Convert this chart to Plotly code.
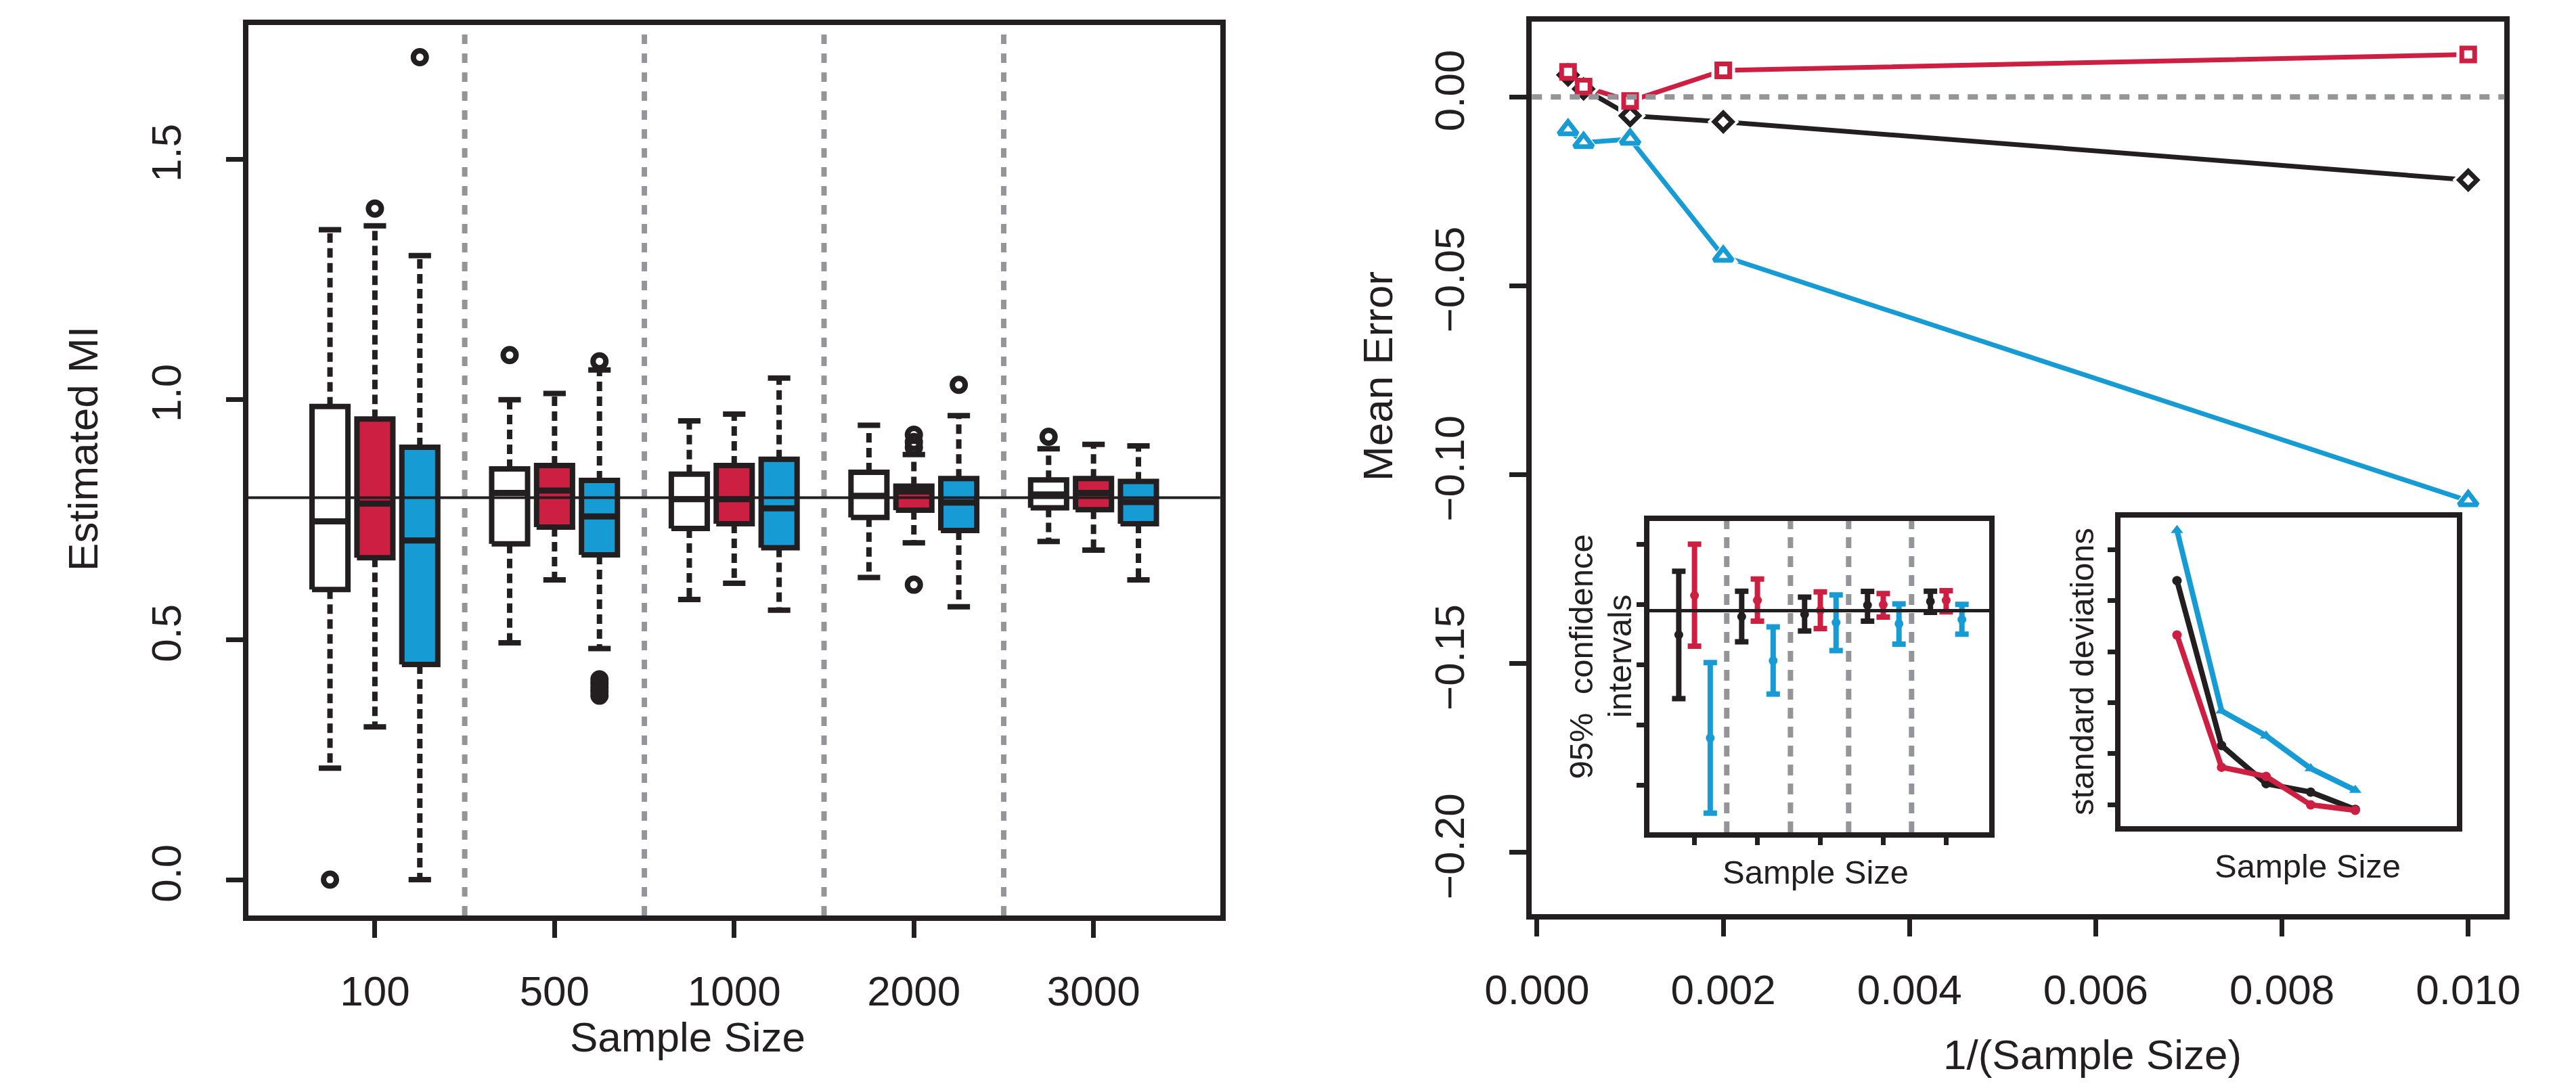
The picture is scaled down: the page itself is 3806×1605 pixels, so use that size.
import plotly.graph_objects as go

# ---- data ----
sample_sizes = [100, 500, 1000, 2000, 3000]
size_labels = ["100", "500", "1000", "2000", "3000"]
true_mi = 0.795

# left panel: boxplot statistics of the estimated MI (three estimators)
a_low = [0.232, 0.493, 0.583, 0.629, 0.704]
a_q1 = [0.604, 0.699, 0.731, 0.754, 0.774]
a_med = [0.746, 0.805, 0.792, 0.799, 0.802]
a_q3 = [0.985, 0.855, 0.844, 0.848, 0.832]
a_high = [1.353, 0.999, 0.955, 0.946, 0.897]
a_out = [[0.0], [1.092], [], [], [0.922]]

b_low = [0.318, 0.624, 0.617, 0.701, 0.686]
b_q1 = [0.670, 0.734, 0.741, 0.769, 0.770]
b_med = [0.783, 0.810, 0.792, 0.808, 0.805]
b_q3 = [0.959, 0.862, 0.862, 0.819, 0.835]
b_high = [1.361, 1.012, 0.969, 0.885, 0.906]
b_out = [[1.397], [], [], [0.926, 0.911, 0.900, 0.614], []]

c_low = [0.0, 0.481, 0.561, 0.568, 0.624]
c_q1 = [0.448, 0.676, 0.691, 0.727, 0.741]
c_med = [0.706, 0.756, 0.773, 0.785, 0.786]
c_q3 = [0.900, 0.831, 0.875, 0.835, 0.829]
c_high = [1.299, 1.061, 1.044, 0.966, 0.903]
c_out = [[1.712], [1.079, 0.417, 0.408, 0.400, 0.392, 0.383], [], [1.030], []]

# right panel: mean error against 1/(sample size)
err_a = [-0.0220, -0.0066, -0.0050, 0.0021, 0.0058]
err_b = [0.0112, 0.0070, -0.0011, 0.0027, 0.0066]
err_c = [-0.1069, -0.0422, -0.0112, -0.0121, -0.0087]

# inset 1: 95% confidence intervals
ci_a_mid = [0.7749, 0.7900, 0.7920, 0.7996, 0.8026]
ci_a_lo = [0.7219, 0.7691, 0.7781, 0.7863, 0.7936]
ci_a_hi = [0.8277, 0.8112, 0.8062, 0.8110, 0.8112]
ci_b_mid = [0.8076, 0.8036, 0.7952, 0.8000, 0.8036]
ci_b_lo = [0.7655, 0.7863, 0.7801, 0.7896, 0.7940]
ci_b_hi = [0.8502, 0.8213, 0.8106, 0.8092, 0.8116]
ci_c_mid = [0.6892, 0.7534, 0.7851, 0.7841, 0.7876]
ci_c_lo = [0.6267, 0.7257, 0.7618, 0.7671, 0.7755]
ci_c_hi = [0.7518, 0.7815, 0.8080, 0.8006, 0.8002]
ci_separators = [4.05, 8.1, 11.8, 15.8]

# inset 2: standard deviations
sd_a = [0.2697, 0.1080, 0.0706, 0.0623, 0.0453]
sd_b = [0.2164, 0.0867, 0.0777, 0.0498, 0.0445]
sd_c = [0.3190, 0.1420, 0.1175, 0.0855, 0.0642]

# ---- styling ----
INK = "#231F20"
RED = "#CD1F42"
BLUE = "#169BD5"
GRAY = "#939598"
FONT = "Liberation Sans, Arial, sans-serif"
W, H = 3806, 1605


def px(x):
    return x / W


def py(y):
    return 1 - y / H


fig = go.Figure()

# ---- left panel: boxes ----
box_sets = [
    (a_low, a_q1, a_med, a_q3, a_high, a_out, "white"),
    (b_low, b_q1, b_med, b_q3, b_high, b_out, RED),
    (c_low, c_q1, c_med, c_q3, c_high, c_out, BLUE),
]
for k, (lo, q1, med, q3, hi, outs, fill) in enumerate(box_sets):
    bx, by, wx, wy, cx, cy, mx, my, ox, oy = [], [], [], [], [], [], [], [], [], []
    for g in range(len(sample_sizes)):
        p = 4 * g + 1 + k
        bx += [p - 0.4, p + 0.4, p + 0.4, p - 0.4, p - 0.4, None]
        by += [q1[g], q1[g], q3[g], q3[g], q1[g], None]
        wx += [p, p, None, p, p, None]
        wy += [q3[g], hi[g], None, q1[g], lo[g], None]
        cx += [p - 0.25, p + 0.25, None, p - 0.25, p + 0.25, None]
        cy += [hi[g], hi[g], None, lo[g], lo[g], None]
        mx += [p - 0.4, p + 0.4, None]
        my += [med[g], med[g], None]
        for v in outs[g]:
            ox.append(p)
            oy.append(v)
    fig.add_trace(go.Scatter(x=wx, y=wy, mode="lines", xaxis="x", yaxis="y",
                             line=dict(color=INK, width=8, dash="14px,8px")))
    fig.add_trace(go.Scatter(x=cx, y=cy, mode="lines", xaxis="x", yaxis="y",
                             line=dict(color=INK, width=8)))
    fig.add_trace(go.Scatter(x=bx, y=by, mode="lines", fill="toself", fillcolor=fill,
                             xaxis="x", yaxis="y", line=dict(color=INK, width=8)))
    fig.add_trace(go.Scatter(x=mx, y=my, mode="lines", xaxis="x", yaxis="y",
                             line=dict(color=INK, width=9)))
    fig.add_trace(go.Scatter(x=ox, y=oy, mode="markers", xaxis="x", yaxis="y",
                             marker=dict(symbol="circle-open", size=19, color=INK,
                                         line=dict(color=INK, width=8))))

# ---- right panel: mean error ----
inv_n = [1 / n for n in sample_sizes]
series = [(err_a, INK, "diamond", 20), (err_b, RED, "square", 19), (err_c, BLUE, "triangle-up", 24)]
for err, col, sym, sz in series:
    fig.add_trace(go.Scatter(x=inv_n, y=err, mode="lines", xaxis="x2", yaxis="y2",
                             line=dict(color=col, width=7)))
for err, col, sym, sz in series:
    fig.add_trace(go.Scatter(x=inv_n, y=err, mode="markers", xaxis="x2", yaxis="y2",
                             marker=dict(symbol=sym, size=sz + 16, color="white")))
for err, col, sym, sz in series:
    fig.add_trace(go.Scatter(x=inv_n, y=err, mode="markers", xaxis="x2", yaxis="y2",
                             marker=dict(symbol=sym, size=sz, color="white",
                                         line=dict(color=col, width=7))))

# ---- inset 1: confidence intervals ----
ci_sets = [(ci_a_mid, ci_a_lo, ci_a_hi, INK), (ci_b_mid, ci_b_lo, ci_b_hi, RED),
           (ci_c_mid, ci_c_lo, ci_c_hi, BLUE)]
for k, (mid, lo, hi, col) in enumerate(ci_sets):
    pos = [4 * g + 1 + k for g in range(len(sample_sizes))]
    fig.add_trace(go.Scatter(
        x=pos, y=mid, mode="markers", xaxis="x3", yaxis="y3",
        marker=dict(size=13, color=col),
        error_y=dict(type="data", symmetric=False,
                     array=[h - m for h, m in zip(hi, mid)],
                     arrayminus=[m - l for m, l in zip(mid, lo)],
                     color=col, thickness=8, width=10)))

# ---- inset 2: standard deviations ----
sd_pos = list(range(1, len(sample_sizes) + 1))
for sd, col, sym, sz in [(sd_c, BLUE, "triangle-up", 16), (sd_a, INK, "circle", 14), (sd_b, RED, "circle", 14)]:
    fig.add_trace(go.Scatter(x=sd_pos, y=sd, mode="lines+markers", xaxis="x4", yaxis="y4",
                             line=dict(color=col, width=8),
                             marker=dict(symbol=sym, size=sz, color=col)))

# ---- axes ----
main_font = dict(family=FONT, size=62, color=INK)
small_font = dict(family=FONT, size=49, color=INK)
frame = dict(showline=True, mirror=True, linecolor=INK, linewidth=8, showgrid=False, zeroline=False)
tick_main = dict(ticks="outside", ticklen=25, tickwidth=7, tickcolor=INK, tickfont=main_font)
tick_inset = dict(ticks="outside", ticklen=11, tickwidth=7, tickcolor=INK, showticklabels=False)

fig.update_layout(
    xaxis=dict(domain=[px(296), px(1768)], range=[-0.82, 20.82], anchor="y",
               tickvals=[4 * g + 2 for g in range(len(sample_sizes))], ticktext=size_labels,
               ticklabelstandoff=26, **tick_main, **frame),
    yaxis=dict(domain=[py(1345), py(29)], range=[-0.0746, 1.779], anchor="x",
               tickvals=[0.0, 0.5, 1.0, 1.5], tickformat=".1f", tickangle=-90,
               ticklabelstandoff=42, **tick_main, **frame),
    xaxis2=dict(domain=[px(2240), px(3713)], range=[-0.0000555, 0.0103889], anchor="y2",
                tickvals=[0, 0.002, 0.004, 0.006, 0.008, 0.010], tickformat=".3f",
                ticklabelstandoff=26, **tick_main, **frame),
    yaxis2=dict(domain=[py(1343), py(24)], range=[-0.2163, 0.0199], anchor="x2",
                tickvals=[-0.20, -0.15, -0.10, -0.05, 0.0], tickformat=".2f", tickangle=-90,
                ticklabelstandoff=42, **tick_main, **frame),
    xaxis3=dict(domain=[px(2418), px(2933)], range=[-0.87, 20.75], anchor="y3",
                tickvals=[4 * g + 2 for g in range(len(sample_sizes))], **tick_inset, **frame),
    yaxis3=dict(domain=[py(1222), py(762)], range=[0.6108, 0.8695], anchor="x3",
                tickvals=[0.65, 0.70, 0.75, 0.80, 0.85], **tick_inset, **frame),
    xaxis4=dict(domain=[px(3132), px(3641)], range=[-0.26, 7.28], anchor="y4",
                showticklabels=False, ticks="", **frame),
    yaxis4=dict(domain=[py(1213), py(757)], range=[0.0289, 0.3315], anchor="x4",
                tickvals=[0.05, 0.10, 0.15, 0.20, 0.25, 0.30], **tick_inset, **frame),
)

# ---- reference lines ----
shapes = []
for g in range(1, len(sample_sizes)):
    shapes.append(dict(type="line", xref="x", yref="y domain", x0=4 * g, x1=4 * g, y0=0, y1=1,
                       line=dict(color=GRAY, width=8, dash="14px,14px"), layer="above"))
shapes.append(dict(type="line", xref="x domain", yref="y", x0=0, x1=1, y0=true_mi, y1=true_mi,
                   line=dict(color=INK, width=4), layer="above"))
shapes.append(dict(type="line", xref="x2 domain", yref="y2", x0=0, x1=1, y0=0, y1=0,
                   line=dict(color=GRAY, width=8, dash="15px,13px"), layer="above"))
for s in ci_separators:
    shapes.append(dict(type="line", xref="x3", yref="y3 domain", x0=s, x1=s, y0=0, y1=1,
                       line=dict(color=GRAY, width=8, dash="16px,12px"), layer="above"))
shapes.append(dict(type="line", xref="x3 domain", yref="y3", x0=0, x1=1, y0=true_mi, y1=true_mi,
                   line=dict(color=INK, width=5), layer="above"))

# ---- titles ----
annotations = [
    dict(text="Estimated MI", x=px(46), y=py(655), textangle=-90, font=main_font),
    dict(text="Sample Size", x=px(962), y=py(1524), font=main_font),
    dict(text="Mean Error", x=px(2007), y=py(548), textangle=-90, font=main_font),
    dict(text="1/(Sample Size)", x=px(3089), y=py(1550), font=main_font),
    dict(text="95%  confidence", x=px(2315), y=py(962), textangle=-90, font=small_font),
    dict(text="intervals", x=px(2373), y=py(962), textangle=-90, font=small_font),
    dict(text="Sample Size", x=px(2670), y=py(1281), font=small_font),
    dict(text="standard deviations", x=px(3073), y=py(984), textangle=-90, font=small_font),
    dict(text="Sample Size", x=px(3415), y=py(1272), font=small_font),
]
for a in annotations:
    a.update(xref="paper", yref="paper", showarrow=False, xanchor="center", yanchor="middle")

fig.update_layout(
    width=W, height=H, margin=dict(l=0, r=0, t=0, b=0),
    paper_bgcolor="white", plot_bgcolor="white", showlegend=False,
    shapes=shapes, annotations=annotations, font=main_font,
)

fig.write_html("out.html")
